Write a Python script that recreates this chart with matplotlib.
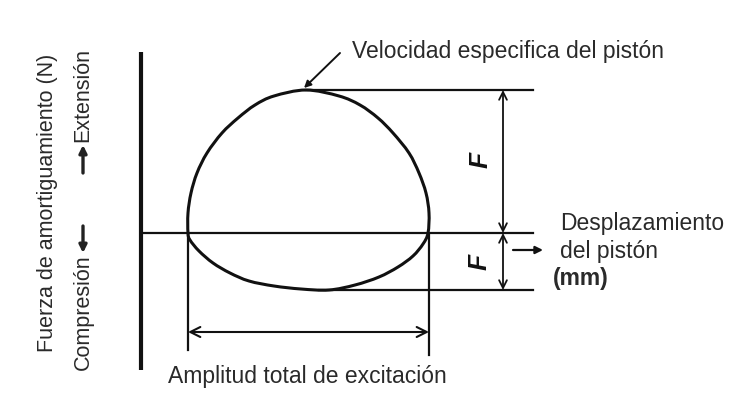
import numpy as np
import matplotlib.pyplot as plt
from matplotlib.path import Path
from matplotlib.patches import PathPatch

# Damper force / piston displacement loop (origin at the axes crossing),
# listed counter-clockwise from the right zero crossing
loop_x = [287, 288, 285, 278, 268, 252, 237, 219, 198, 165,
          133, 114, 97, 81, 66, 56, 50, 47,
          47, 49, 58, 72, 89, 108, 133, 160, 188, 214, 238, 257, 272, 282]
loop_y = [0, 20, 40, 60, 80, 100, 115, 128, 137, 143,
          137, 128, 115, 100, 80, 60, 40, 20,
          0, -7, -18, -30, -40, -48, -53, -56, -57, -52, -44, -34, -23, -11]
f_ext = 143      # peak extension force
f_comp = -57     # peak compression force
stroke = [47, 288]   # total excitation amplitude (ends)

plt.rcParams['font.family'] = ['Liberation Sans', 'DejaVu Sans']
ink = '#111111'
txt = '#2a2a2a'

fig = plt.figure(figsize=(7.33, 4.05), dpi=100)
ax = fig.add_axes([0, 0, 1, 1])
ax.set_xlim(-141, 592)
ax.set_ylim(-172, 233)
ax.axis('off')


def closed_bezier(xs, ys):
    # Catmull-Rom tangents turned into cubic Bezier segments
    pts = np.column_stack([xs, ys]).astype(float)
    n = len(pts)
    verts = [pts[0]]
    codes = [Path.MOVETO]
    for i in range(n):
        p0, p1, p2, p3 = pts[i - 1], pts[i], pts[(i + 1) % n], pts[(i + 2) % n]
        c1 = p1 + (p2 - p0) / 6.0
        c2 = p2 - (p3 - p1) / 6.0
        verts += [c1, c2, p2]
        codes += [Path.CURVE4] * 3
    return Path(verts, codes)


# axes of the diagram
ax.plot([0, 0], [181, -137], color=ink, lw=3.0, solid_capstyle='butt')
ax.plot([0, 392], [0, 0], color=ink, lw=1.6)

# hysteresis loop
ax.add_patch(PathPatch(closed_bezier(loop_x, loop_y), fill=False,
                       edgecolor=ink, lw=2.2))

# reference lines for the peak forces
ax.plot([loop_x[9], 392], [f_ext, f_ext], color=ink, lw=1.6)
ax.plot([loop_x[26] - 10, 392], [f_comp, f_comp], color=ink, lw=1.6)

# vertical dimension arrows for F
dim = dict(arrowstyle='<->', color=ink, lw=1.3, mutation_scale=14,
           shrinkA=0, shrinkB=0)
ax.annotate('', xy=(362, f_ext), xytext=(362, 0), arrowprops=dim)
ax.annotate('', xy=(362, 0), xytext=(362, f_comp), arrowprops=dim)
ax.text(340, 73, 'F', rotation=90, fontsize=19, style='italic',
        fontweight='bold', color=ink, ha='center', va='center')
ax.text(339, -29, 'F', rotation=90, fontsize=19, style='italic',
        fontweight='bold', color=ink, ha='center', va='center')

# total excitation amplitude
ax.plot([stroke[0], stroke[0]], [0, -117], color=ink, lw=1.6)
ax.plot([stroke[1], stroke[1]], [0, -122], color=ink, lw=1.6)
ax.annotate('', xy=(stroke[0], -99), xytext=(stroke[1], -99),
            arrowprops=dict(arrowstyle='<->', color=ink, lw=1.5,
                            mutation_scale=18, shrinkA=0, shrinkB=0))
ax.text(27, -150, 'Amplitud total de excitación', fontsize=16.5,
        color=txt, ha='left', va='baseline')

# piston speed callout
ax.annotate('', xy=(163, 145), xytext=(199, 180),
            arrowprops=dict(arrowstyle='-|>', color=ink, lw=1.4,
                            mutation_scale=10, shrinkA=0, shrinkB=0))
ax.text(211, 175, 'Velocidad especifica del pistón', fontsize=16.5,
        color=txt, ha='left', va='baseline')

# displacement axis label
ax.annotate('', xy=(402, -17), xytext=(372, -17),
            arrowprops=dict(arrowstyle='-|>', color=ink, lw=1.6,
                            mutation_scale=11, shrinkA=0, shrinkB=0))
ax.text(419, 3, 'Desplazamiento', fontsize=16.5, color=txt,
        ha='left', va='baseline')
ax.text(419, -25, 'del pistón', fontsize=16.5, color=txt,
        ha='left', va='baseline')
ax.text(412, -52, '(mm)', fontsize=16.5, fontweight='bold', color=txt,
        ha='left', va='baseline')

# force axis labels
ax.text(-93, 30, 'Fuerza de amortiguamiento (N)', rotation=90,
        fontsize=15.5, color=txt, ha='center', va='center')
ax.text(-58, 185, 'Extensión', rotation=90, fontsize=15.5, color=txt,
        ha='center', va='top')
ax.text(-58, -137, 'Compresión', rotation=90, fontsize=15.5, color=txt,
        ha='center', va='bottom')
thick = dict(arrowstyle='-|>', color='#222222', lw=2.4, mutation_scale=11,
             shrinkA=0, shrinkB=0)
ax.annotate('', xy=(-58, 88), xytext=(-58, 60), arrowprops=thick)
ax.annotate('', xy=(-58, -20), xytext=(-58, 7), arrowprops=thick)

fig.savefig('out.png', dpi=100)
